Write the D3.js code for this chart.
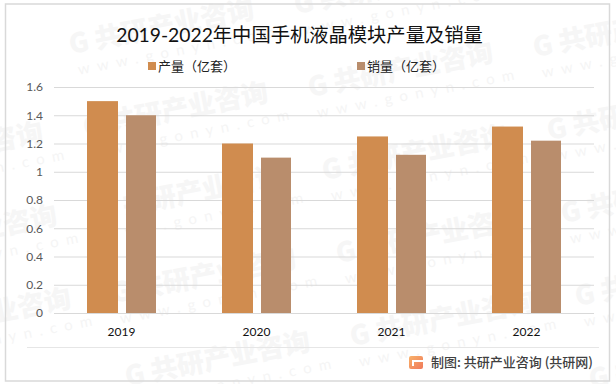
<!DOCTYPE html>
<html><head><meta charset="utf-8">
<script src="https://cdn.jsdelivr.net/npm/d3@7"></script>
<style>html,body{margin:0;padding:0;background:#fff}svg{display:block}text{font-family:Lato,"Noto Sans CJK SC",sans-serif}</style>
</head><body><svg id="c" width="616" height="384"></svg>
<script>
const title = "2019-2022年中国手机液晶模块产量及销量";
const years = ["2019","2020","2021","2022"];
const seriesNames = ["产量（亿套）","销量（亿套）"];
const production = [1.5,1.2,1.25,1.32];
const sales = [1.4,1.1,1.12,1.22];
const yTicks = [0,0.2,0.4,0.6,0.8,1,1.2,1.4,1.6];
const colors = ["#D08C4F","#B98D6C"];
const source = "制图: 共研产业咨询 (共研网)";

const svg = d3.select("#c");
const cjk = '"Noto Sans CJK SC",sans-serif';

// watermarks
const wm = svg.append("g");
for (let i=-2;i<=3;i++) for (let j=-2;j<=4;j++){
  const x = 310+i*225+j*14, y = 97-i*40+j*83;
  if (x<-150||x>610||y<-10||y>400) continue;
  const g = wm.append("g").attr("transform",`translate(${x},${y}) rotate(-11)`);
  g.append("text").attr("x",0).attr("y",0).attr("font-size",27).attr("font-weight",900)
    .style("font-family",cjk).attr("fill","#f6f6f6").text("G 共研产业咨询");
  g.append("text").attr("x",4).attr("y",22).attr("font-size",15)
    .attr("letter-spacing","7.5px").attr("fill","#f5f5f5").text("www.gonyn.com");
}

// frame
svg.append("rect").attr("x",5.5).attr("y",4).attr("width",604).attr("height",377)
  .attr("fill","none").attr("stroke","#d9d9d9").attr("stroke-width",1.5);

const x = d3.scaleBand().domain(years).range([54,594]);
const inner = d3.scaleOrdinal().domain([0,1]).range([-34.5,4.5]);
const y = d3.scaleLinear().domain([0,1.6]).range([313,87]);

// gridlines
const yAxis = d3.axisLeft(y).tickValues(yTicks).tickFormat(d=>String(d)).tickSize(-540).tickPadding(11);
const ya = svg.append("g").attr("transform","translate(54,0)").call(yAxis);
ya.select(".domain").remove();
ya.selectAll("line").attr("stroke","#d9d9d9").attr("stroke-width",1);
ya.selectAll("text").attr("font-size",12).attr("fill","#595959");

// bars
[production,sales].forEach((vals,s)=>{
  svg.append("g").selectAll("rect").data(vals).join("rect")
    .attr("x",(d,i)=>x(years[i])+x.bandwidth()/2+inner(s))
    .attr("width",s===0?31:30)
    .attr("y",d=>y(d)).attr("height",d=>y(0)-y(d))
    .attr("fill",colors[s]);
});

// x axis labels
const xa = svg.append("g").attr("transform","translate(0,313)").call(d3.axisBottom(x).tickSize(0).tickPadding(14));
xa.select(".domain").remove();
xa.selectAll("text").attr("font-size",12).attr("fill","#111");

// bottom rule
svg.append("line").attr("x1",27).attr("x2",599).attr("y1",347.5).attr("y2",347.5).attr("stroke","#e6e6e6");

// title
svg.append("text").attr("x",299.5).attr("y",42).attr("text-anchor","middle").attr("font-size",19.3)
  .attr("fill","#111").text(title);

// legend
const lx=[148,357];
seriesNames.forEach((n,i)=>{
  svg.append("rect").attr("x",lx[i]).attr("y",62).attr("width",8).attr("height",8).attr("fill",colors[i]);
  svg.append("text").attr("x",lx[i]+10).attr("y",71).attr("font-size",13).attr("fill","#222").text(n);
});

// logo + source
const grad = svg.append("defs").append("linearGradient").attr("id","lg").attr("x1",0).attr("x2",1).attr("y1",0).attr("y2",1);
grad.append("stop").attr("offset","0").attr("stop-color","#F8B26A");
grad.append("stop").attr("offset","1").attr("stop-color","#F0795A");
svg.append("rect").attr("x",409).attr("y",356).attr("width",14).attr("height",13).attr("rx",2).attr("fill","url(#lg)");
svg.append("rect").attr("x",412).attr("y",360).attr("width",11).attr("height",2).attr("fill","#fff");
svg.append("rect").attr("x",412).attr("y",360).attr("width",2).attr("height",6).attr("fill","#fff");
svg.append("text").attr("x",431).attr("y",367).attr("font-size",13).attr("fill","#404040").attr("font-weight",500)
  .style("font-family",cjk).text(source);
</script></body></html>
